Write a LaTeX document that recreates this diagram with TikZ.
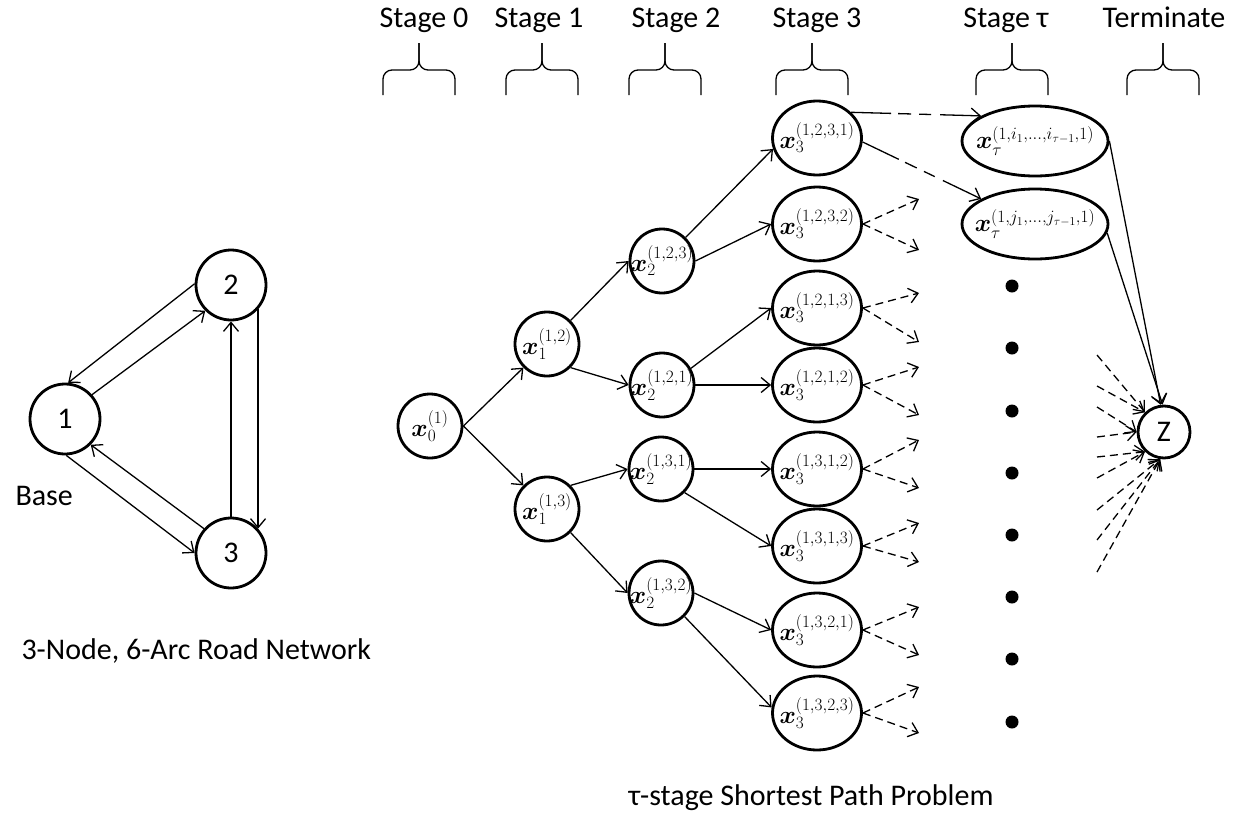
\documentclass[tikz,border=0pt]{standalone}
\usepackage{fontspec}
\setmainfont{Carlito}
\usepackage{bm}
\usetikzlibrary{arrows.meta,shapes.geometric}

\begin{document}
\begin{tikzpicture}[x=1pt,y=-1pt,
    every node/.style={font=\fontsize{30}{35}\selectfont},
    basenode/.style={shape=circle, draw, line width=2.8pt, minimum size=70, inner sep=0pt},
    stagenode/.style={shape=circle, draw, line width=2.8pt, minimum size=64, inner sep=-2pt,
      font=\fontsize{23}{26}\selectfont},
    leafnode/.style={shape=ellipse, draw, line width=2.8pt, minimum width=84, minimum height=74,
      inner xsep=-6pt, inner ysep=0pt, font=\fontsize{23}{26}\selectfont},
    taunode/.style={leafnode, minimum width=146, minimum height=70, inner xsep=-15pt,
      font=\fontsize{26}{30}\selectfont},
    link/.style={line width=1.3pt, -{Straight Barb[length=9pt,width=15pt,line width=1.3pt]}},
    dashlink/.style={link, dash pattern=on 8pt off 5pt},
    mixlink/.style={link, dash pattern=on 40pt off 7pt on 13pt off 8pt on 12pt off 9pt on 90pt},
    bullet/.style={shape=circle, fill, minimum size=13, inner sep=0pt},
    stbrace/.style={line width=1.3pt, rounded corners=9pt}]

  \useasboundingbox (0,0) rectangle (1241,814);

  % base network
  \node[basenode] (b1) at (65,419) {1};
  \node[basenode] (b2) at (231,285) {2};
  \node[basenode] (b3) at (231,553) {3};
  \draw[link] (b2.178) -- (b1.85);
  \draw[link] (b1.42) -- (b2.225);
  \draw[link] (b1.272) -- (b3.180);
  \draw[link] (b3.138) -- (b1.315);
  \draw[link] (b3.north) -- (b2.south);
  \draw[link] (b2.-42) -- (b3.42);
  \node[anchor=base west] (basetxt) at (12,505) {Base};
  \node[anchor=base west] (nettxt) at (18,659) {3-Node, 6-Arc Road Network};

  % stage headers
  \foreach \cx/\bx/\lab [count=\i] in {424/419/Stage 0, 539/542/Stage 1, 676/665/Stage 2,
      817/812/Stage 3, 1006/1012/Stage τ, 1164/1163/Terminate} {
    \node[anchor=base] (head\i) at (\cx,27) {\lab};
    \draw[stbrace] ({\bx-36},95) -- ({\bx-36},70) -- (\bx,70) -- (\bx,43);
    \draw[stbrace] ({\bx+36},95) -- ({\bx+36},70) -- (\bx,70) -- (\bx,43);
  }

  % tree
  \node[stagenode] (s0) at (430,426) {$\bm{x}_0^{(1)}$};
  \node[stagenode] (s1a) at (547,344) {$\bm{x}_1^{(1,2)}$};
  \node[stagenode] (s1b) at (547,509) {$\bm{x}_1^{(1,3)}$};
  \node[stagenode] (s2a) at (662,261) {$\bm{x}_2^{(1,2,3)}$};
  \node[stagenode] (s2b) at (662,385) {$\bm{x}_2^{(1,2,1)}$};
  \node[stagenode] (s2c) at (661,469) {$\bm{x}_2^{(1,3,1)}$};
  \node[stagenode] (s2d) at (661,593) {$\bm{x}_2^{(1,3,2)}$};
  \node[leafnode] (s3a) at (817,138) {$\bm{x}_3^{(1,2,3,1)}$};
  \node[leafnode] (s3b) at (817,224) {$\bm{x}_3^{(1,2,3,2)}$};
  \node[leafnode] (s3c) at (817,308) {$\bm{x}_3^{(1,2,1,3)}$};
  \node[leafnode] (s3d) at (817,385) {$\bm{x}_3^{(1,2,1,2)}$};
  \node[leafnode] (s3e) at (817,469) {$\bm{x}_3^{(1,3,1,2)}$};
  \node[leafnode] (s3f) at (817,546) {$\bm{x}_3^{(1,3,1,3)}$};
  \node[leafnode] (s3g) at (817,630) {$\bm{x}_3^{(1,3,2,1)}$};
  \node[leafnode] (s3h) at (817,713) {$\bm{x}_3^{(1,3,2,3)}$};
  \node[taunode] (ta) at (1035,141) {$\bm{x}_\tau^{(1,i_1,\dots,i_{\tau-1},1)}$};
  \node[taunode] (tb) at (1035,224) {$\bm{x}_\tau^{(1,j_1,\dots,j_{\tau-1},1)}$};
  \node[basenode, minimum size=52] (z) at (1164,432) {Z};

  \draw[link] (s0.east) -- (s1a.225);
  \draw[link] (s0.east) -- (s1b.135);
  \draw[link] (s1a.45) -- (s2a.west);
  \draw[link] (s1a.-45) -- (s2b.west);
  \draw[link] (s1b.45) -- (s2c.west);
  \draw[link] (s1b.-45) -- (s2d.west);
  \draw[link] (s2a.45) -- (s3a.194);
  \draw[link] (s2a.east) -- (s3b.west);
  \draw[link] (s2b.30) -- (s3c.west);
  \draw[link] (s2b.east) -- (s3d.west);
  \draw[link] (s2c.east) -- (s3e.west);
  \draw[link] (s2c.-45) -- (s3f.west);
  \draw[link] (s2d.east) -- (s3g.west);
  \draw[link] (s2d.-45) -- (s3h.173);

  \draw[mixlink] (s3a.37) -- (ta.155);
  \draw[mixlink] (s3a.-5) -- (tb.155);
  \draw[link] (ta.east) -- (z.97);
  \draw[link] (tb.-7) -- (z.93);

  % open branches
  \foreach \n/\u/\d in {b/199/250, c/293/342, d/367/415, e/440/488, f/523/562, g/607/655, h/687/733} {
    \coordinate (up\n) at (919,\u);
    \coordinate (dn\n) at (919,\d);
    \draw[dashlink] (s3\n.east) -- (up\n);
    \draw[dashlink] (s3\n.east) -- (dn\n);
  }
  \foreach \y [count=\i] in {286,348,411,473,535,597,659,722}
    \node[bullet] (dot\i) at (1012,\y) {};
  \foreach \y/\a [count=\i] in {355/134, 386/134, 407/180, 437/180, 457/226, 478/226, 510/262, 540/262, 572/262} {
    \coordinate (zin\i) at (1097,\y);
    \draw[dashlink] (zin\i) -- (z.\a);
  }

  \node[anchor=base] (title) at (811,805) {τ-stage Shortest Path Problem};
\end{tikzpicture}
\end{document}
